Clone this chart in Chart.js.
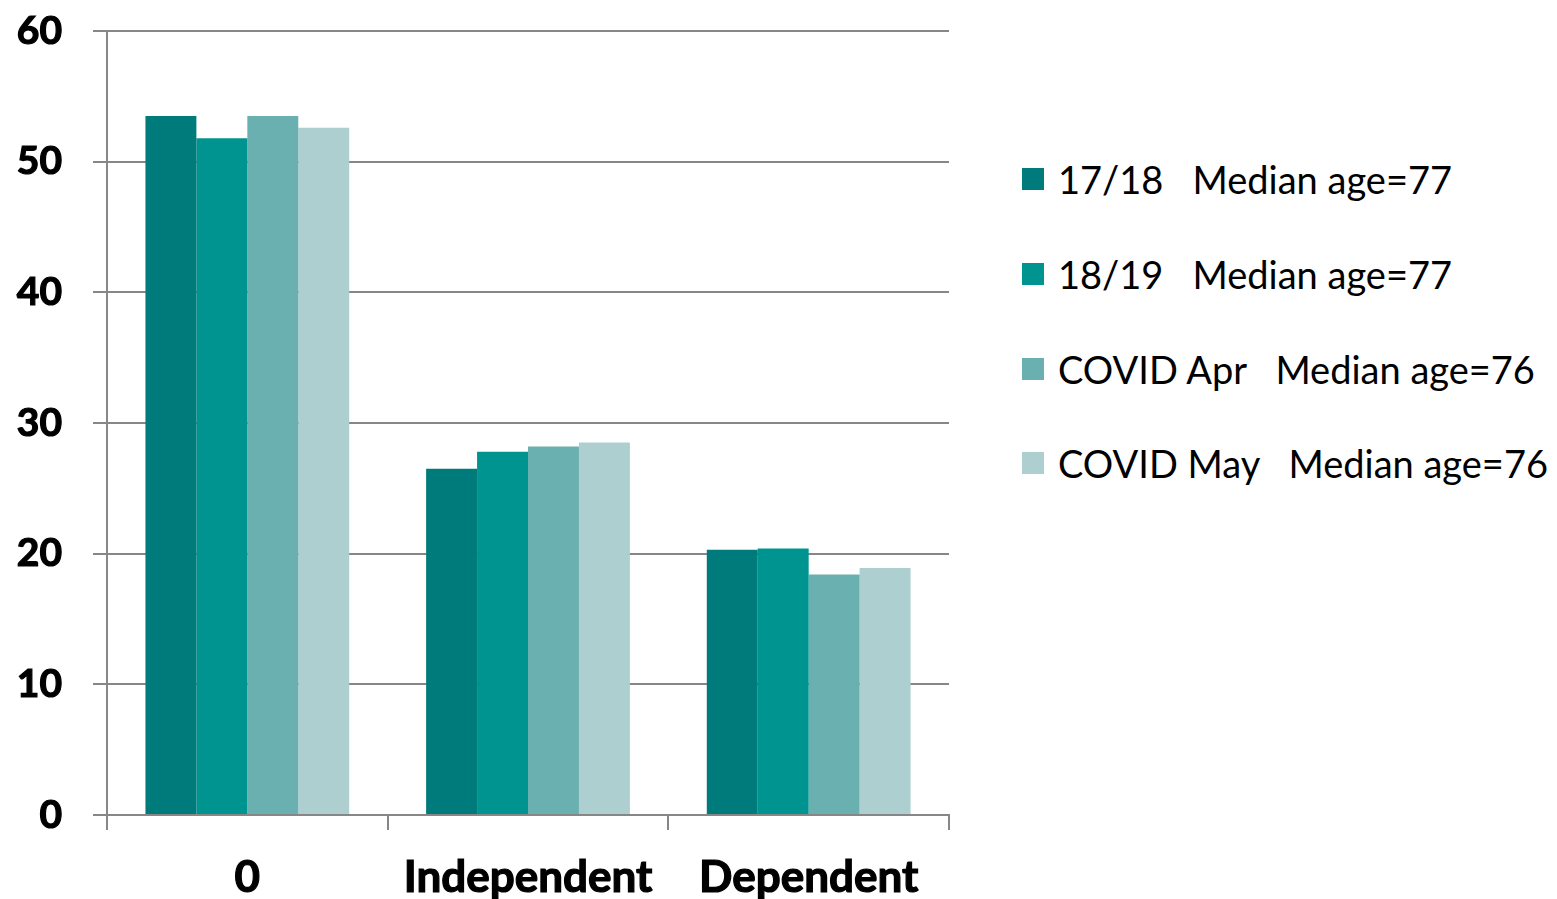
<!DOCTYPE html>
<html>
<head>
<meta charset="utf-8">
<script src="https://cdn.jsdelivr.net/npm/chart.js@4/dist/chart.umd.min.js"></script>
<style>
  html, body { margin: 0; padding: 0; background: #fff; }
  #wrap { position: relative; width: 1557px; height: 899px; }
  #box { position: absolute; left: 0; top: 0; width: 960px; height: 899px; }
  #legenda { position: absolute; left: 1022px; top: 0; font-family: Lato, sans-serif; font-size: 38px; color: #000; }
  .item { position: absolute; left: 0; display: flex; align-items: center; white-space: pre; height: 50px; }
  .cor { width: 22px; height: 22px; margin-right: 14px; flex: none; }
</style>
</head>
<body>
<div id="wrap">
  <div id="box"><canvas id="barras"></canvas></div>
  <div id="legenda"></div>
</div>
<script>
// categorias e séries
const categorias = ['0', 'Independent', 'Dependent'];
const series = ['17/18   Median age=77', '18/19   Median age=77', 'COVID Apr   Median age=76', 'COVID May   Median age=76'];
const cores = ['#007B7B', '#009491', '#6AB0B0', '#ADCFD0'];

const v1718 = [53.5, 26.5, 20.3];
const v1819 = [51.8, 27.8, 20.4];
const vAbr = [53.5, 28.2, 18.4];
const vMai = [52.6, 28.5, 18.9];

const ticksY = [0, 10, 20, 30, 40, 50, 60];

const valores = [v1718, v1819, vAbr, vMai];
const cinza = '#878787';

function montaLegenda() {
    let legenda = document.getElementById('legenda');
    series.forEach((nome, i) => {
        let item = document.createElement('div');
        item.className = 'item';
        item.style.top = (179 - 25 + i * 94.8) + 'px';
        let quadrado = document.createElement('span');
        quadrado.className = 'cor';
        quadrado.style.background = cores[i];
        let texto = document.createElement('span');
        texto.textContent = nome;
        item.appendChild(quadrado);
        item.appendChild(texto);
        legenda.appendChild(item);
    });
}

function montaBarras() {
    const dataBarra = {
        labels: categorias,
        datasets: series.map((nome, i) => ({
            label: nome,
            data: valores[i],
            backgroundColor: cores[i],
            borderWidth: 0,
            categoryPercentage: 0.726,
            barPercentage: 1
        }))
    };

    const configBarra = {
        type: 'bar',
        data: dataBarra,
        options: {
            responsive: true,
            maintainAspectRatio: false,
            animation: false,
            layout: { padding: { left: 0, top: 31, right: 11, bottom: 0 } },
            plugins: {
                legend: { display: false },
                tooltip: { enabled: false }
            },
            scales: {
                x: {
                    grid: {
                        offset: true,
                        drawOnChartArea: false,
                        drawTicks: true,
                        tickLength: 15,
                        color: cinza,
                        lineWidth: 2
                    },
                    border: { display: true, color: cinza, width: 2 },
                    ticks: {
                        color: '#000',
                        padding: 21,
                        textStrokeColor: '#000',
                        textStrokeWidth: 1.2,
                        font: { family: 'Lato', size: 44, weight: 'bold' }
                    },
                    afterFit: (escala) => {
                        escala.height = 84;
                        escala.paddingLeft = 0;
                        escala.paddingRight = 0;
                    }
                },
                y: {
                    min: 0,
                    max: 60,
                    afterBuildTicks: (escala) => { escala.ticks = ticksY.map(v => ({ value: v })); },
                    grid: {
                        drawTicks: true,
                        tickLength: 14,
                        color: cinza,
                        lineWidth: 2
                    },
                    border: { display: true, color: cinza, width: 2 },
                    ticks: {
                        color: '#000',
                        padding: 31,
                        textStrokeColor: '#000',
                        textStrokeWidth: 1.2,
                        font: { family: 'Lato', size: 39, weight: 'bold' }
                    },
                    afterFit: (escala) => {
                        escala.width = 107;
                        escala.paddingTop = 0;
                        escala.paddingBottom = 0;
                    }
                }
            }
        }
    };

    new Chart(document.getElementById('barras'), configBarra);
}

montaLegenda();
montaBarras();
</script>
</body>
</html>
